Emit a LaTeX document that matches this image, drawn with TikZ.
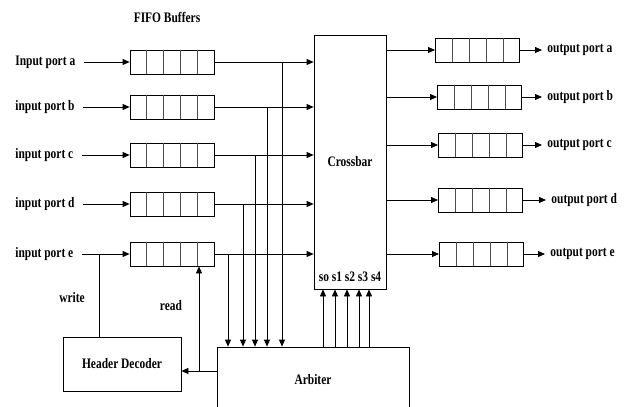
\documentclass[tikz,border=0pt]{standalone}
\usepackage{fontspec}
\setmainfont{Liberation Serif}[FakeStretch=0.79]
\usetikzlibrary{arrows.meta,calc}

\tikzset{
  txt/.style={font=\bfseries\fontsize{14.5}{16}\selectfont, inner sep=2pt},
  blk/.style={draw, inner sep=0pt, font=\bfseries\fontsize{14.5}{16}\selectfont},
  fifo/.style={draw, minimum width=84pt, minimum height=24pt, inner sep=0pt}
}

\begin{document}
\begin{tikzpicture}[x=1pt, y=-1pt, thick, >={Triangle[length=7pt,width=6pt]}]
  \useasboundingbox (0,0) rectangle (624,407);

  % main blocks
  \node[blk, minimum width=72pt, minimum height=254pt] (xb) at (350,162) {Crossbar};
  \node[blk, minimum width=192pt, minimum height=66pt] (arb) at (313,380) {Arbiter};
  \node[blk, minimum width=118pt, minimum height=54pt] (hd) at (122,364) {Header Decoder};
  \node[txt] (ttl) at (167,17) {FIFO Buffers};

  % input ports and buffers
  \foreach \n/\s/\y/\xj in {a/Input port a/62/282, b/input port b/107/267,
      c/input port c/155/255, d/input port d/204/243, e/input port e/254/228} {
    \node[txt, anchor=west] (il\n) at (13,\y) {\s};
    \node[fifo] (in\n) at (172,\y) {};
    \draw[->, shorten <=6pt] (il\n.east) -- (in\n.west);
    \draw[->] (in\n.east) -- (xb.west |- in\n);
    \coordinate (j\n) at (\xj,\y);
    \draw[->] (j\n) -- (j\n |- arb.north);
  }

  % output buffers and ports
  \foreach \n/\y/\x/\xt in {a/50/435/545, b/97/437/545, c/145/438/545,
      d/200/438/549, e/254/439/548} {
    \node[fifo, anchor=west] (out\n) at (\x,\y) {};
    \node[txt, anchor=west] (ol\n) at (\xt,\y) {output port \n};
    \draw[->] (xb.east |- out\n) -- (out\n.west);
    \draw[->, shorten >=3pt] (out\n.east) -- (ol\n.west);
  }

  % buffer cells
  \foreach \b in {ina,inb,inc,ind,ine,outa,outb,outc,outd,oute} {
    \foreach \k in {1,...,4} {
      \draw[thin, gray!60!black] ($(\b.north west)!\k/5!(\b.north east)$)
        -- ($(\b.south west)!\k/5!(\b.south east)$);
    }
  }

  % select lines
  \node[txt] (sel) at (xb.south |- 0,277) {so s1 s2 s3 s4};
  \foreach \x in {323,335,347,359,369} {
    \draw[->] (arb.north -| \x,0) -- (xb.south -| \x,0);
  }

  % write / read
  \coordinate (jw) at (99,254);
  \draw (jw) -- (jw |- hd.north);
  \node[txt] (wr) at (72,298) {write};
  \coordinate (jr) at (199,371);
  \draw[->] (arb.west |- jr) -- (hd.east |- jr);
  \draw[->] (jr) -- (jr |- ine.south);
  \node[txt] (rd) at (171,306) {read};
\end{tikzpicture}
\end{document}
